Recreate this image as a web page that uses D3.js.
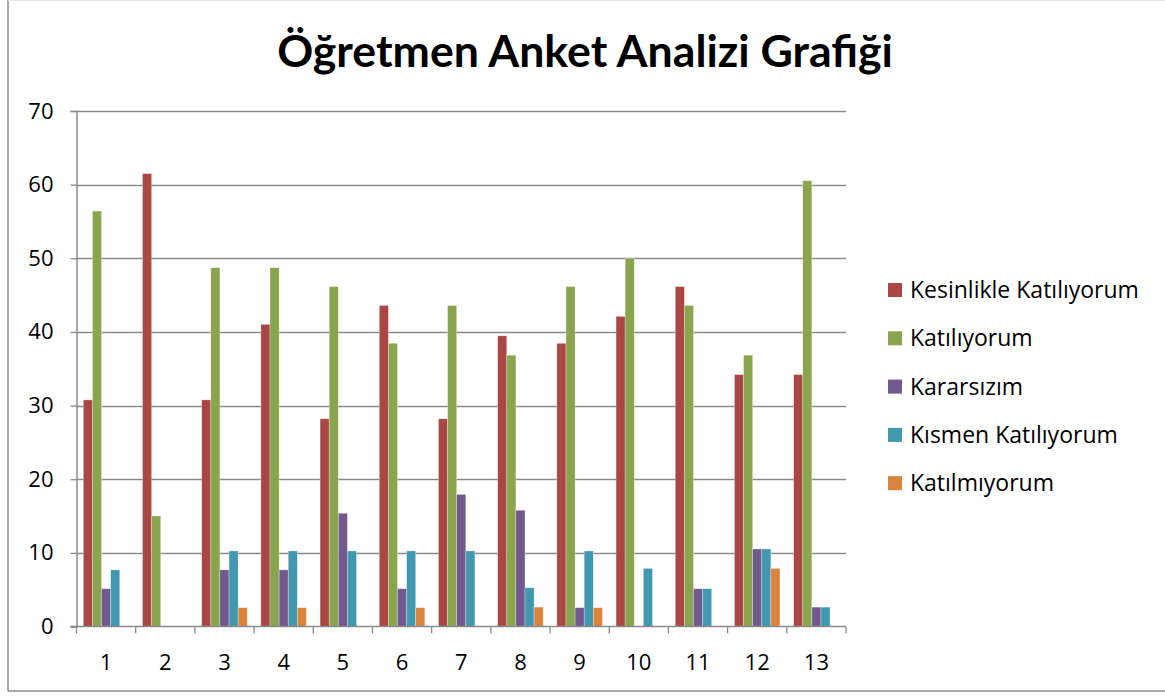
<!DOCTYPE html>
<html>
<head>
<meta charset="utf-8">
<script src="https://cdn.jsdelivr.net/npm/d3@7"></script>
<style>
  body { margin: 0; background: #fff; }
  svg { display: block; font-family: "Open Sans", Lato, sans-serif; }
</style>
</head>
<body>
<div id="chart"></div>
<script>
// survey questions 1..13
var categories = ["1", "2", "3", "4", "5", "6", "7", "8", "9", "10", "11", "12", "13"]

var seriesNames = ["Kesinlikle Katılıyorum", "Katılıyorum", "Kararsızım", "Kısmen Katılıyorum", "Katılmıyorum"]
var seriesColors = ["#aa4643", "#89a54e", "#71588f", "#4198af", "#db843d"]

var kesinlikle = [30.77, 61.5, 30.77, 41.03, 28.21, 43.59, 28.21, 39.47, 38.46, 42.11, 46.15, 34.21, 34.21]
var katiliyorum = [56.41, 15.0, 48.72, 48.72, 46.15, 38.46, 43.59, 36.84, 46.15, 50.0, 43.59, 36.84, 60.53]
var kararsizim = [5.13, 0, 7.69, 7.69, 15.38, 5.13, 17.95, 15.79, 2.56, 0, 5.13, 10.53, 2.63]
var kismen = [7.69, 0, 10.26, 10.26, 10.26, 10.26, 10.26, 5.26, 10.26, 7.89, 5.13, 10.53, 2.63]
var katilmiyorum = [0, 0, 2.56, 2.56, 0, 2.56, 0, 2.63, 2.56, 0, 0, 7.89, 0]

var yTicks = [0, 10, 20, 30, 40, 50, 60, 70]

var seriesValues = [kesinlikle, katiliyorum, kararsizim, kismen, katilmiyorum]

var width = 1165, height = 697
var plot = { left: 76.5, right: 846, top: 111, bottom: 626.5 }

var svg = d3.select("#chart").append("svg")
  .attr("width", width)
  .attr("height", height)

// outer frame
svg.append("line").attr("x1", 8).attr("x2", 8).attr("y1", 0).attr("y2", 691)
  .attr("stroke", "#8c8c8c").attr("stroke-width", 1.5)
svg.append("line").attr("x1", 8).attr("x2", width).attr("y1", 691).attr("y2", 691)
  .attr("stroke", "#8c8c8c").attr("stroke-width", 1.5)
svg.append("line").attr("x1", 8).attr("x2", width).attr("y1", 0.5).attr("y2", 0.5)
  .attr("stroke", "#e6e6e6").attr("stroke-width", 1)

var x0 = d3.scaleBand()
  .domain(categories)
  .range([plot.left, plot.right])
  .padding(0)

var x1 = d3.scaleBand()
  .domain(d3.range(seriesNames.length))
  .range([0, x0.bandwidth()])
  .paddingInner(0)
  .paddingOuter(0.75)

var y = d3.scaleLinear()
  .domain([0, 70])
  .range([plot.bottom, plot.top])

// gridlines
svg.append("g")
  .selectAll("line")
  .data(yTicks.slice(1))
  .enter()
  .append("line")
  .attr("x1", plot.left)
  .attr("x2", plot.right)
  .attr("y1", function (d) { return Math.round(y(d)) + 0.5 })
  .attr("y2", function (d) { return Math.round(y(d)) + 0.5 })
  .attr("stroke", "#8a8a8a")
  .attr("stroke-width", 1.3)

// bars
var groups = svg.append("g")
  .selectAll("g")
  .data(categories)
  .enter()
  .append("g")
  .attr("transform", function (d) { return "translate(" + x0(d) + ",0)" })

groups.selectAll("rect")
  .data(function (d, i) {
    return seriesValues.map(function (s, k) { return { k: k, v: s[i] } })
  })
  .enter()
  .append("rect")
  .attr("x", function (d) { return x1(d.k) })
  .attr("width", x1.bandwidth())
  .attr("y", function (d) { return y(d.v) })
  .attr("height", function (d) { return y(0) - y(d.v) })
  .attr("fill", function (d) { return seriesColors[d.k] })
  .attr("stroke", "#fff")
  .attr("stroke-opacity", 0.5)
  .attr("stroke-width", 0.6)

// y axis
var yAxis = svg.append("g")
  .attr("transform", "translate(" + plot.left + ",0)")
  .call(d3.axisLeft(y).tickValues(yTicks).tickSize(6).tickPadding(17))
yAxis.select(".domain").attr("stroke", "#8a8a8a").attr("stroke-width", 1.5)
yAxis.selectAll(".tick line").attr("stroke", "#8a8a8a").attr("stroke-width", 1.3)
yAxis.selectAll("text")
  .attr("font-size", 22)
  .attr("fill", "#000")
  .style("font-family", "'Open Sans', Lato, sans-serif")

// x axis with ticks on category boundaries
var xAxis = svg.append("g")
  .attr("transform", "translate(0," + plot.bottom + ")")
xAxis.append("line")
  .attr("x1", plot.left - 6).attr("x2", plot.right)
  .attr("stroke", "#8a8a8a").attr("stroke-width", 1.5)
xAxis.selectAll(".xtick")
  .data(categories.concat(["end"]))
  .enter()
  .append("line")
  .attr("class", "xtick")
  .attr("x1", function (d, i) { return plot.left + i * x0.step() })
  .attr("x2", function (d, i) { return plot.left + i * x0.step() })
  .attr("y1", 0).attr("y2", 7)
  .attr("stroke", "#8a8a8a").attr("stroke-width", 1.3)
xAxis.selectAll(".xlabel")
  .data(categories)
  .enter()
  .append("text")
  .attr("class", "xlabel")
  .attr("x", function (d) { return x0(d) + x0.bandwidth() / 2 })
  .attr("y", 43)
  .attr("text-anchor", "middle")
  .attr("font-size", 22)
  .text(function (d) { return d })

// title
var title = svg.append("text")
  .attr("x", 585)
  .attr("y", 67)
  .attr("text-anchor", "middle")
  .attr("font-weight", "bold")
  .attr("font-size", 42)
  .style("font-family", "Lato, sans-serif")
  .text("Öğretmen Anket Analizi Grafiği")
var tw = title.node().getComputedTextLength()
title.attr("font-size", 42 * 616 / tw)

// legend
var legend = svg.append("g")
  .selectAll("g")
  .data(seriesNames)
  .enter()
  .append("g")
  .attr("transform", function (d, i) { return "translate(888," + (290 + i * 48.3) + ")" })

legend.append("rect")
  .attr("x", 0).attr("y", -7)
  .attr("width", 14).attr("height", 14)
  .attr("fill", function (d, i) { return seriesColors[i] })

var legendText = legend.append("text")
  .attr("x", 22)
  .attr("y", 8)
  .attr("font-size", 21)
  .text(function (d) { return d })
var lw = legendText.node().getComputedTextLength()
legendText.attr("font-size", Math.min(23, 21 * 230 / lw))
</script>
</body>
</html>
